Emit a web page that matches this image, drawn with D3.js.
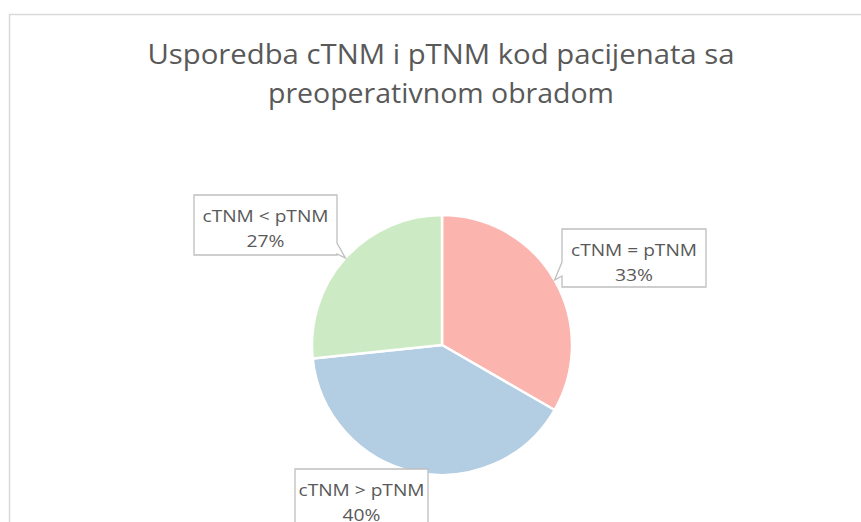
<!DOCTYPE html>
<html>
<head>
<meta charset="utf-8">
<script src="https://cdn.jsdelivr.net/npm/d3@7"></script>
<style>
  body { margin: 0; background: #fff; }
  text { font-family: "Open Sans", "Noto Sans", sans-serif; fill: #595959; }
</style>
</head>
<body>
<div id="chart"></div>
<script>
// chart data
var categories = ["cTNM = pTNM", "cTNM > pTNM", "cTNM < pTNM"];
var counts = [5, 6, 4];
var colors = ["#fbb4ae", "#b3cde3", "#ccebc5"];
var titleLines = ["Usporedba cTNM i pTNM kod pacijenata sa", "preoperativnom obradom"];

var svgWidth = 861;
var svgHeight = 522;

var cx = 442, cy = 345, radius = 130;

// callout boxes (x0, y0, width, height) and which side the pointer leaves from
var callouts = [
  { x: 562, y: 229, w: 144, h: 58, side: "left" },
  { x: 295, y: 469, w: 133, h: 60, side: "none" },
  { x: 194, y: 195, w: 143, h: 60, side: "right" }
];

var svg = d3.select("#chart")
  .append("svg")
  .attr("width", svgWidth)
  .attr("height", svgHeight);

// chart area border (clipped by the picture on the right/bottom)
svg.append("rect")
  .attr("x", 9.5)
  .attr("y", 14.5)
  .attr("width", 900)
  .attr("height", 600)
  .attr("fill", "#fff")
  .attr("stroke", "#d9d9d9")
  .attr("stroke-width", 1.5);

// title
svg.append("g")
  .selectAll("text")
  .data(titleLines)
  .enter()
  .append("text")
  .attr("x", 441)
  .attr("y", (d, i) => 64 + i * 38.5)
  .attr("text-anchor", "middle")
  .attr("font-size", 28)
  .attr("textLength", (d, i) => i === 0 ? 587 : 346)
  .attr("lengthAdjust", "spacingAndGlyphs")
  .text(d => d);

var total = d3.sum(counts);

var pie = d3.pie()
  .sort(null)
  .value(d => d);

var arc = d3.arc()
  .innerRadius(0)
  .outerRadius(radius);

var arcs = pie(counts);

var pieGroup = svg.append("g")
  .attr("transform", `translate(${cx}, ${cy})`);

pieGroup.selectAll("path")
  .data(arcs)
  .enter()
  .append("path")
  .attr("d", arc)
  .attr("fill", (d, i) => colors[i])
  .attr("stroke", "#fff")
  .attr("stroke-width", 2.5)
  .attr("stroke-linejoin", "round");

// labels with callout pointers to the middle of each slice edge
function calloutPath(c, tip) {
  var x0 = c.x, y0 = c.y, x1 = c.x + c.w, y1 = c.y + c.h;
  if (c.side === "right") {
    return `M${x0},${y0}H${x1}V${y1 - 12}L${tip[0]},${tip[1]}L${x1},${y1 - 1}V${y1}H${x0}Z`;
  }
  if (c.side === "left") {
    return `M${x0},${y0}H${x1}V${y1}H${x0}V${y1 - 11}L${tip[0]},${tip[1]}L${x0},${y1 - 25}Z`;
  }
  return `M${x0},${y0}H${x1}V${y1}H${x0}Z`;
}

var labelGroup = svg.append("g");

arcs.forEach(function(d, i) {
  var mid = (d.startAngle + d.endAngle) / 2;
  var tip = [cx + radius * Math.sin(mid), cy - radius * Math.cos(mid)];
  var c = callouts[i];

  labelGroup.append("path")
    .attr("d", calloutPath(c, tip))
    .attr("fill", "#fff")
    .attr("stroke", "#bfbfbf")
    .attr("stroke-width", 1.3);

  labelGroup.append("text")
    .attr("x", c.x + c.w / 2)
    .attr("y", c.y + 27)
    .attr("text-anchor", "middle")
    .attr("font-size", 16.5)
    .attr("textLength", 126)
    .attr("lengthAdjust", "spacingAndGlyphs")
    .text(categories[i]);

  labelGroup.append("text")
    .attr("x", c.x + c.w / 2)
    .attr("y", c.y + 52)
    .attr("text-anchor", "middle")
    .attr("font-size", 17)
    .attr("textLength", 38)
    .attr("lengthAdjust", "spacingAndGlyphs")
    .text(Math.round(d.data / total * 100) + "%");
});
</script>
</body>
</html>
